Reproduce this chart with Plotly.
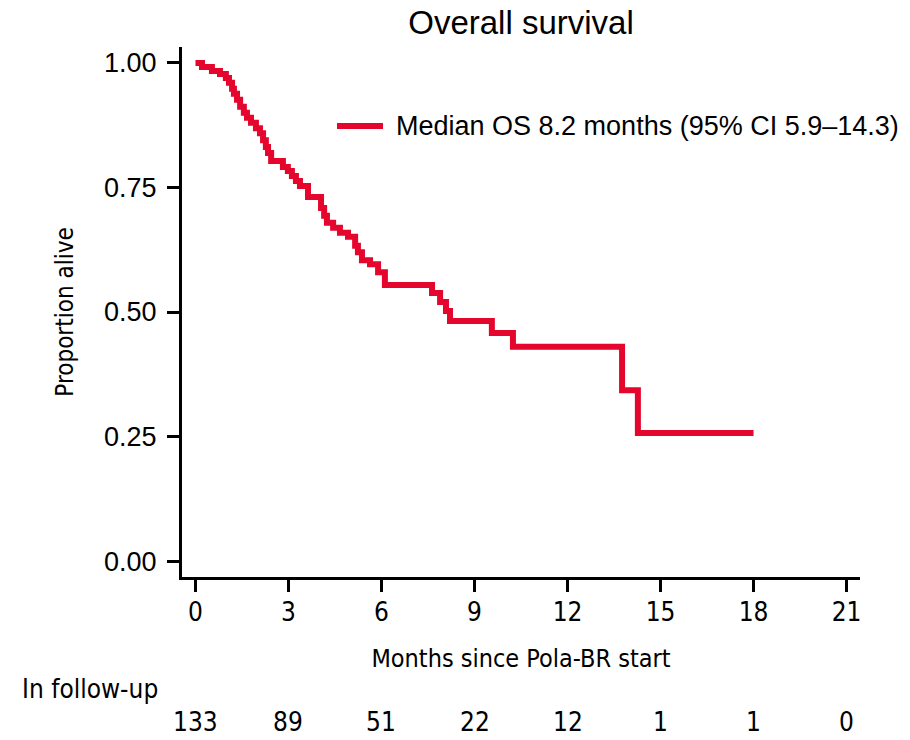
import plotly.graph_objects as go

# Kaplan-Meier overall survival
event_times = [0.21, 0.53, 0.79, 0.98, 1.08, 1.18, 1.24, 1.34, 1.44, 1.56, 1.66, 1.79, 1.95,
               2.08, 2.18, 2.27, 2.34, 2.44, 2.82, 2.98, 3.11, 3.24, 3.37, 3.63, 4.05, 4.15,
               4.24, 4.44, 4.66, 4.92, 5.15, 5.24, 5.37, 5.63, 5.89, 6.11, 7.63, 7.89, 8.08,
               8.21, 9.56, 10.24, 13.76, 14.27]
survival = [0.992, 0.984, 0.978, 0.970, 0.960, 0.948, 0.938, 0.926, 0.912, 0.900, 0.890, 0.880,
            0.869, 0.859, 0.845, 0.831, 0.819, 0.803, 0.791, 0.783, 0.773, 0.763, 0.753, 0.731,
            0.709, 0.693, 0.679, 0.669, 0.659, 0.651, 0.633, 0.620, 0.604, 0.596, 0.580, 0.554,
            0.538, 0.520, 0.502, 0.482, 0.458, 0.430, 0.343, 0.257]
last_followup = 18.0

x_ticks = [0, 3, 6, 9, 12, 15, 18, 21]
y_ticks = [0.0, 0.25, 0.50, 0.75, 1.00]
at_risk = [133, 89, 51, 22, 12, 1, 1, 0]

legend_label = "Median OS 8.2 months (95% CI 5.9\u201314.3)"

RED = "#E4062D"
REG = "Liberation Sans, Arial, Helvetica, sans-serif"
NARROW = "DejaVu Sans Condensed, Liberation Sans Narrow, Arial Narrow, sans-serif"

# plot area in pixels (for placing the legend key)
L, R, T, B = 182, 860, 47, 577
W, H = 910, 740

xs = [0.0] + event_times + [last_followup]
ys = [1.0] + survival + [survival[-1]]

fig = go.Figure()
fig.add_trace(go.Scatter(
    x=xs, y=ys, mode="lines", name=legend_label,
    line=dict(shape="hv", color=RED, width=6),
    showlegend=False,
))

# legend key (line sample + label)
def px_x(p):
    return (p - L) / (R - L)

def px_y(p):
    return (B - p) / (B - T)

fig.add_shape(type="line", xref="paper", yref="paper",
              x0=px_x(337), x1=px_x(383), y0=px_y(126), y1=px_y(126),
              line=dict(color=RED, width=6))
fig.add_annotation(x=px_x(394), y=px_y(126), xref="paper", yref="paper", text=legend_label,
                   showarrow=False, xanchor="left", yanchor="middle",
                   font=dict(family=REG, size=27, color="black"))

for t, n in zip(x_ticks, at_risk):
    fig.add_annotation(x=t, y=-0.274, xref="x", yref="paper", text=str(n),
                       showarrow=False, xanchor="center", yanchor="middle",
                       font=dict(family=NARROW, size=26, color="black"))
fig.add_annotation(x=-0.239, y=-0.212, xref="paper", yref="paper", text="In follow-up",
                   showarrow=False, xanchor="left", yanchor="middle",
                   font=dict(family=NARROW, size=26, color="black"))

fig.update_layout(
    width=W, height=H,
    margin=dict(l=L, r=W - R, t=T, b=H - B),
    paper_bgcolor="white", plot_bgcolor="white",
    showlegend=False,
    title=dict(text="Overall survival", x=(L + R) / 2 / W, xanchor="center",
               y=1 - 22 / H, yanchor="middle", yref="container",
               font=dict(family=REG, size=33, color="black")),
    xaxis=dict(range=[-0.435, 21.435], tickvals=x_ticks, showline=True, linecolor="black",
               linewidth=3, ticks="outside", ticklen=12, tickwidth=3, tickcolor="black",
               showgrid=False, zeroline=False, ticklabelstandoff=-2,
               tickfont=dict(family=NARROW, size=26, color="black"),
               title=dict(text="Months since Pola-BR start", standoff=24,
                          font=dict(family=NARROW, size=25, color="black"))),
    yaxis=dict(range=[-0.032, 1.032], tickvals=y_ticks, tickformat=".2f", showline=True,
               linecolor="black", linewidth=3, ticks="outside", ticklen=12, tickwidth=3,
               tickcolor="black", showgrid=False, zeroline=False, ticklabelstandoff=5,
               tickfont=dict(family=REG, size=27, color="black"),
               title=dict(text="Proportion alive", standoff=24,
                          font=dict(family=NARROW, size=24, color="black"))),
)

fig.write_html("out.html")
